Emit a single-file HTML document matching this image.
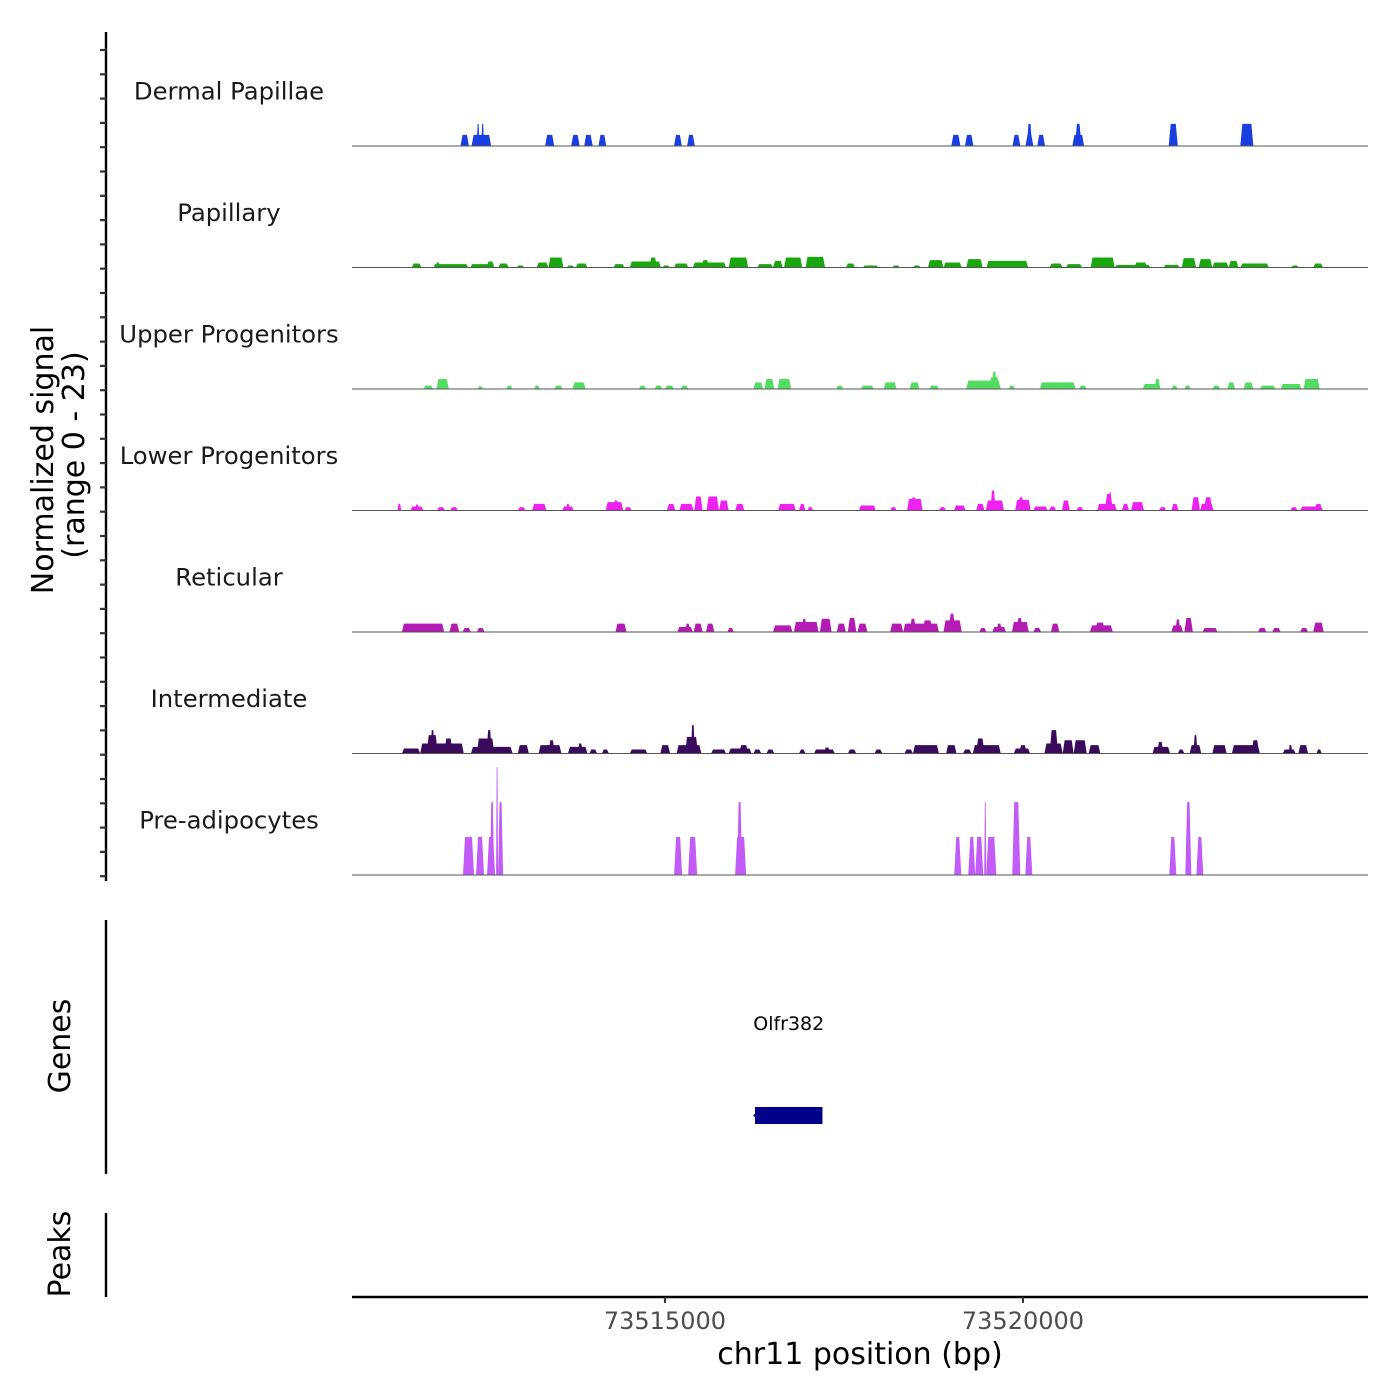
<!DOCTYPE html>
<html><head><meta charset="utf-8">
<style>
html,body{margin:0;padding:0;background:#fff;}
svg{display:block;font-family:"DejaVu Sans","Liberation Sans",sans-serif;}
</style></head>
<body>
<svg id="chart" width="1400" height="1400" viewBox="0 0 1400 1400"></svg>
<script>
// positions are bp offsets from chromBase
const chromBase = 73510000;
const trackNames = ["Dermal Papillae","Papillary","Upper Progenitors","Lower Progenitors","Reticular","Intermediate","Pre-adipocytes"];
const trackColors = ["#1a3fe0","#18a80e","#52dc62","#ee22ee","#b41ab4","#3a0b5c","#c15cf8"];
const xTickValues = [73515000, 73520000];
const xTickLabels = ["73515000", "73520000"];
const signalMax = 23;

const dpStart = [2145,2300,2373,2436,3327,3691,3872,4072,5127,5309,8999,9190,9854,10035,10054,10199,10690,10726,12035,13035];
const dpEnd   = [2263,2573,2409,2473,3454,3809,3991,4181,5236,5418,9126,9308,9963,10145,10127,10308,10854,10817,12162,13217];
const dpVal   = [2.1,2.1,4.2,4.2,2.1,2.1,2.1,2.1,2.1,2.1,2.1,2.1,2.1,2.1,4.2,2.1,2.1,4.2,4.2,4.2];

const paStart = [1464,1764,1800,2282,2509,2673,2927,3209,3372,3627,3754,4281,4509,4782,4963,5127,5390,5509,5890,6290,6509,6663,6963,7527,7763,8172,8463,8672,8890,9208,9490,10372,10599,10944,11281,11554,11963,12217,12454,12644,12872,13035,13744,14053];
const paEnd   = [1600,2254,1854,2618,2618,2818,3036,3372,3582,3736,3918,4436,4945,4890,5072,5327,5854,5618,6163,6509,6645,6918,7236,7654,7981,8281,8572,8890,9145,9436,10072,10554,10826,11281,11781,11736,12190,12417,12644,12872,13008,13435,13853,14190];
const paVal   = [0.76,0.63,1.0,0.63,1.14,0.76,0.38,0.95,1.9,0.38,0.76,0.63,1.14,1.9,0.38,0.76,0.95,1.39,1.9,0.63,1.26,1.9,2.0,0.76,0.38,0.38,0.38,1.39,0.95,1.58,1.26,0.76,0.63,1.9,0.5,0.95,0.5,1.77,1.58,0.95,1.26,0.76,0.38,0.76];

const upStart = [1627,1809,2382,2782,3172,3454,3709,4636,4854,5000,5218,6236,6390,6572,7390,7736,8054,8417,8690,9208,9527,9563,9799,10235,10781,11672,11836,12072,12254,12644,12854,13081,13308,13599,13917];
const upEnd   = [1764,1982,2463,2873,3254,3572,3891,4736,4963,5127,5327,6372,6527,6763,7490,7917,8236,8554,8826,9690,9672,9636,9890,10735,10890,11918,11918,12162,12344,12753,12962,13217,13526,13890,14144];
const upVal   = [0.63,1.9,0.5,0.63,0.63,0.63,1.26,0.63,0.63,0.63,0.63,1.26,1.9,1.9,0.63,0.63,1.26,1.26,0.63,1.58,2.2,3.28,0.63,1.26,0.63,0.95,1.9,0.63,0.63,0.63,1.26,1.26,0.63,0.95,1.9];

const loStart = [1264,1445,1509,1818,2000,2945,3145,3563,3618,4172,4272,4436,5027,5200,5409,5581,5754,5981,6581,6872,6990,7708,8145,8381,8436,8826,9036,9345,9481,9545,9890,9927,10145,10363,10544,10745,11035,11145,11199,11381,11509,11899,12072,12354,12472,12527,13735,13872,14072];
const loEnd   = [1318,1627,1564,1927,2109,3054,3345,3727,3672,4418,4363,4536,5145,5400,5527,5754,5890,6109,6827,6963,7072,7945,8236,8599,8508,8926,9199,9463,9735,9618,10108,10017,10345,10463,10654,10845,11308,11254,11236,11481,11690,12000,12172,12472,12662,12644,13835,14190,14181];
const loVal   = [1.26,0.76,1.14,0.63,0.63,0.63,1.26,0.76,1.26,1.58,1.9,0.63,1.26,1.26,2.65,2.65,1.9,1.26,1.26,1.26,0.63,0.95,0.63,2.2,2.52,0.63,0.95,1.26,1.9,3.79,2.0,2.52,0.76,0.76,1.9,0.63,1.26,3.15,3.47,1.26,1.58,0.63,1.26,2.52,1.26,2.52,0.63,0.76,1.26];

const reStart = [1327,1991,2173,2373,4309,5172,5281,5400,5572,5872,6509,6800,6909,7163,7399,7554,7690,8145,8327,8417,8599,8890,8963,9390,9572,9627,9845,9908,10145,10390,10935,11008,12072,12127,12254,12508,13281,13481,13872,14053];
const reEnd   = [1918,2127,2291,2482,4463,5390,5354,5527,5690,5963,6781,7145,6981,7327,7527,7672,7827,8327,8826,8508,8736,9145,9054,9490,9763,9708,10081,9999,10254,10508,11254,11145,12235,12199,12372,12717,13399,13599,13981,14199];
const reVal   = [1.58,1.58,0.76,0.76,1.58,0.95,1.58,1.58,1.58,0.76,1.26,1.9,2.52,2.52,1.58,2.65,1.58,1.58,1.58,2.52,2.2,2.2,3.47,0.76,0.95,1.58,1.9,2.65,0.76,1.58,1.26,1.77,1.26,2.4,2.65,0.76,0.76,0.76,0.76,1.77];

const inStart = [1327,1582,1673,1727,1918,2291,2373,2509,2945,3236,3372,3645,3781,3945,4118,4509,4936,5163,5281,5363,5645,5890,6036,6236,6418,6872,7081,7218,7554,7927,8345,8463,8926,9163,9299,9345,9872,9945,10299,10372,10554,10708,10917,11808,11872,12162,12327,12381,12644,12917,13190,13627,13708,13845,14099];
const inEnd   = [1582,2191,1827,1782,2036,2873,2618,2582,3100,3554,3463,3918,3854,4054,4218,4754,5072,5509,5463,5418,5854,6209,6163,6345,6527,6963,7372,7309,7672,8036,8463,8826,9072,9281,9690,9463,10099,10054,10554,10490,10708,10890,11081,12054,11963,12254,12490,12436,12844,13308,13299,13808,13763,13981,14172];
const inVal   = [0.95,1.9,3.47,4.42,2.84,1.26,2.84,4.42,1.58,1.58,2.52,1.26,1.9,0.76,0.76,0.76,1.58,1.58,3.15,5.36,0.76,0.95,1.58,0.76,0.76,0.76,0.76,1.14,0.76,0.76,0.76,1.58,1.58,0.76,1.58,2.84,0.95,1.58,1.9,4.42,2.52,2.52,1.58,1.26,2.2,0.76,1.58,3.47,1.58,1.58,2.52,0.76,1.58,1.58,0.76];

const prStart = [2180,2362,2516,2558,2642,2670,5128,5324,5980,6008,9040,9236,9333,9459,9487,9850,10032,12043,12267,12421];
const prEnd   = [2334,2474,2628,2614,2670,2740,5240,5450,6134,6078,9138,9333,9445,9487,9627,9962,10130,12141,12351,12518];
const prVal   = [7.2,7.2,7.2,13.8,20.4,13.8,7.2,7.2,7.2,13.8,7.2,7.2,7.2,13.8,7.2,13.8,7.2,7.2,13.8,7.2];

const geneName = "Olfr382";
const geneStart = 73516258;
const geneEnd = 73517200;

const trackStarts = [dpStart,paStart,upStart,loStart,reStart,inStart,prStart];
const trackEnds = [dpEnd,paEnd,upEnd,loEnd,reEnd,inEnd,prEnd];
const trackVals = [dpVal,paVal,upVal,loVal,reVal,inVal,prVal];

const NS = "http://www.w3.org/2000/svg";
const svg = document.getElementById("chart");
const X0 = 352, X1 = 1368;
const domLo = chromBase + 630, domHi = chromBase + 14818;
function xScale(bp){ return X0 + (bp - domLo) / (domHi - domLo) * (X1 - X0); }
const trackTop = 32, trackH = 121.5;
function baseY(i){ return trackTop + (i+1)*trackH - 7.5; }
function yScale(i, v){ return baseY(i) - v / signalMax * trackH; }
function el(tag, attrs, parent){ const e = document.createElementNS(NS, tag); for (const k in attrs) e.setAttribute(k, attrs[k]); (parent||svg).appendChild(e); return e; }

// left y axis
const yAxis = el("line",{x1:106,y1:32,x2:106,y2:881,stroke:"#000","stroke-width":2.4});


for (let k = 0; k < 36; k++) {
  const ty = 50 + k*24.3;
  if (ty > 881) break;
  const t = el("line",{x1:100,y1:ty,x2:106,y2:ty,stroke:"#333","stroke-width":2.2});
  
  
}
const yt1 = el("text",{x:0,y:0,"font-size":30,"text-anchor":"middle",fill:"#000",transform:"translate(53,460) rotate(-90)"});
yt1.textContent = "Normalized signal";


const yt2 = el("text",{x:0,y:0,"font-size":30,"text-anchor":"middle",fill:"#000",transform:"translate(84,455) rotate(-90)"});
yt2.textContent = "(range 0 - 23)";



// tracks
for (let i = 0; i < trackNames.length; i++) {
  const g = el("g",{});
  
  
  const lab = el("text",{x:229,y:trackTop + i*trackH + 67.5,"font-size":24.3,"text-anchor":"middle",fill:"#1a1a1a"}, g);
  lab.textContent = trackNames[i];
  
  
  const by = baseY(i);
  const S = trackStarts[i], E = trackEnds[i], V = trackVals[i];
  for (let j = 0; j < S.length; j++) {
    const xs = xScale(chromBase + S[j]), xe = xScale(chromBase + E[j]);
    const r = Math.min(2, (xe - xs) * 0.3);
    const yt = yScale(i, V[j]);
    const p = el("polygon",{points:`${xs},${by} ${xs+r},${yt} ${xe-r},${yt} ${xe},${by}`,fill:trackColors[i]}, g);
    
    
  }
  const bl = el("line",{x1:X0,y1:by,x2:X1,y2:by,stroke:"#555","stroke-width":1}, g);
  
  
}

// genes panel
const gAx = el("line",{x1:106,y1:920,x2:106,y2:1174,stroke:"#000","stroke-width":2.4});


const gT = el("text",{x:0,y:0,"font-size":30,"text-anchor":"middle",fill:"#000",transform:"translate(70,1046) rotate(-90)"});
gT.textContent = "Genes";


const gx0 = xScale(geneStart), gx1 = xScale(geneEnd);
const gr = el("rect",{x:gx0,y:1107,width:gx1-gx0,height:17,fill:"#00008b"});


const ga = el("polygon",{points:`${gx0-2},1115.5 ${gx0+2},1112 ${gx0+2},1119`,fill:"#00008b"});


const gl = el("text",{x:(gx0+gx1)/2,y:1030,"font-size":19,"text-anchor":"middle",fill:"#000"});
gl.textContent = geneName;



// peaks panel
const pAx = el("line",{x1:106,y1:1213,x2:106,y2:1297,stroke:"#000","stroke-width":2.4});


const pT = el("text",{x:0,y:0,"font-size":30,"text-anchor":"middle",fill:"#000",transform:"translate(70,1254) rotate(-90)"});
pT.textContent = "Peaks";



// x axis
const xAx = el("line",{x1:X0,y1:1297,x2:X1,y2:1297,stroke:"#000","stroke-width":2.4});


for (let k = 0; k < xTickValues.length; k++) {
  const tx = xScale(xTickValues[k]);
  const t = el("line",{x1:tx,y1:1297,x2:tx,y2:1303,stroke:"#333","stroke-width":2});
  
  
  const tl = el("text",{x:tx,y:1329,"font-size":24,"text-anchor":"middle",fill:"#4d4d4d"});
  tl.textContent = xTickLabels[k];
  
  
}
const xT = el("text",{x:860,y:1364,"font-size":30,"text-anchor":"middle",fill:"#000"});
xT.textContent = "chr11 position (bp)";


</script>
</body></html>
